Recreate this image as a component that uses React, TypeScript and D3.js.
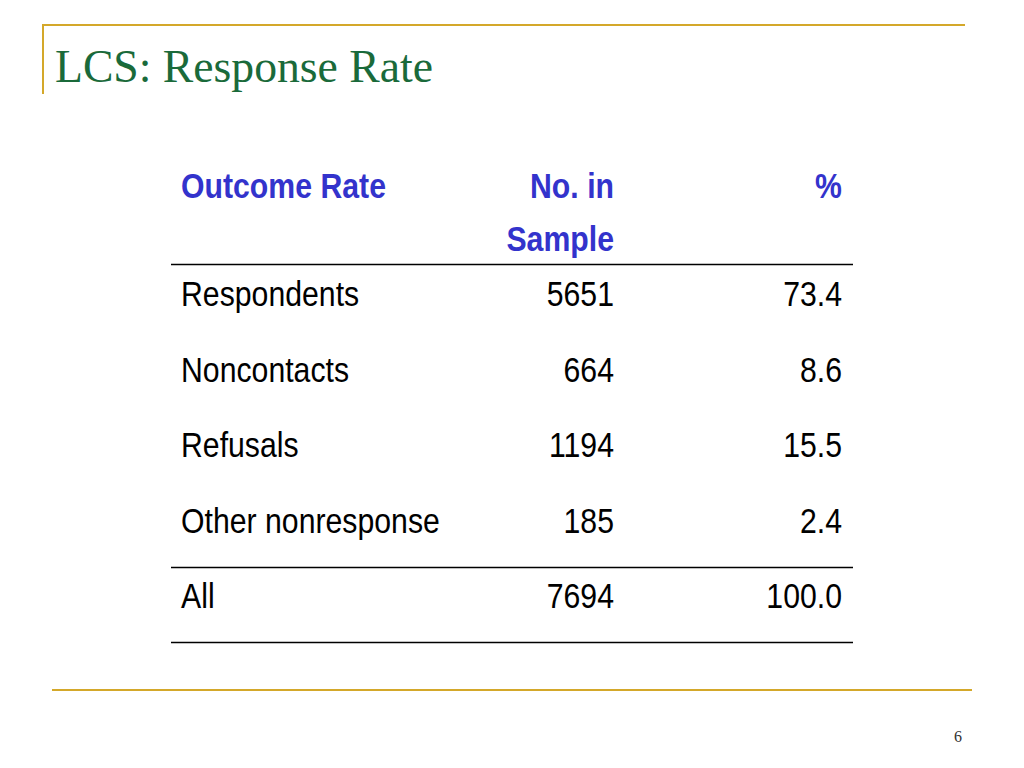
import React from "react";
import * as d3 from "d3";

const title = "LCS: Response Rate";
const headers = ["Outcome Rate", "No. in|Sample", "%"];
const categories = ["Respondents", "Noncontacts", "Refusals", "Other nonresponse", "All"];
const counts = [5651, 664, 1194, 185, 7694];
const percents = [73.4, 8.6, 15.5, 2.4, 100.0];
const pageNumber = "6";

const W = 1024;
const H = 768;
const gold = "#d4a82a";
const green = "#1a6a3a";
const blue = "#3333cc";
const tableFont = "'Liberation Sans', Arial, sans-serif";
const SX = 0.84;

function NText({ x, y, children, anchor = "start", fill = "#000", bold = false }: any) {
  return (
    <text
      transform={`translate(${x},${y}) scale(${SX},1)`}
      textAnchor={anchor}
      fill={fill}
      fontWeight={bold ? "bold" : "normal"}
    >
      {children}
    </text>
  );
}

export default function App() {
  const y = d3.scaleLinear().domain([0, 4]).range([306, 608]);
  const xLabel = 181;
  const xCount = 614;
  const xPct = 842;
  const fmtPct = d3.format(".1f");
  const headerLines = headers.map((h) => h.split("|"));
  return (
    <svg width={W} height={H} style={{ position: "absolute", left: 0, top: 0 }}>
      <rect x={0} y={0} width={W} height={H} fill="#fff" />
      <line x1={42} y1={25} x2={965} y2={25} stroke={gold} strokeWidth={2} />
      <line x1={43} y1={24} x2={43} y2={94} stroke={gold} strokeWidth={2} />
      <line x1={52} y1={690} x2={972} y2={690} stroke={gold} strokeWidth={2} />
      <text x={55} y={82} fill={green} fontFamily="'Liberation Serif', 'Times New Roman', serif" fontSize={46} textLength={378} lengthAdjust="spacingAndGlyphs">
        {title}
      </text>
      <g fontFamily={tableFont} fontSize={36}>
        <NText x={xLabel} y={198} fill={blue} bold>{headerLines[0][0]}</NText>
        {headerLines[1].map((t, i) => (
          <NText key={i} x={xCount} y={198 + i * 53} fill={blue} bold anchor="end">{t}</NText>
        ))}
        <NText x={xPct} y={198} fill={blue} bold anchor="end">{headerLines[2][0]}</NText>
        {categories.map((c, i) => (
          <g key={c}>
            <NText x={xLabel} y={y(i)}>{c}</NText>
            <NText x={xCount} y={y(i)} anchor="end">{counts[i]}</NText>
            <NText x={xPct} y={y(i)} anchor="end">{fmtPct(percents[i])}</NText>
          </g>
        ))}
      </g>
      <line x1={171} y1={264.5} x2={853} y2={264.5} stroke="#000" strokeWidth={1.5} />
      <line x1={171} y1={567.5} x2={853} y2={567.5} stroke="#000" strokeWidth={1.5} />
      <line x1={171} y1={642.5} x2={853} y2={642.5} stroke="#000" strokeWidth={1.5} />
      <text x={958} y={742} fontFamily="'Liberation Serif', serif" fontSize={16} fill="#333" textAnchor="middle">{pageNumber}</text>
    </svg>
  );
}
